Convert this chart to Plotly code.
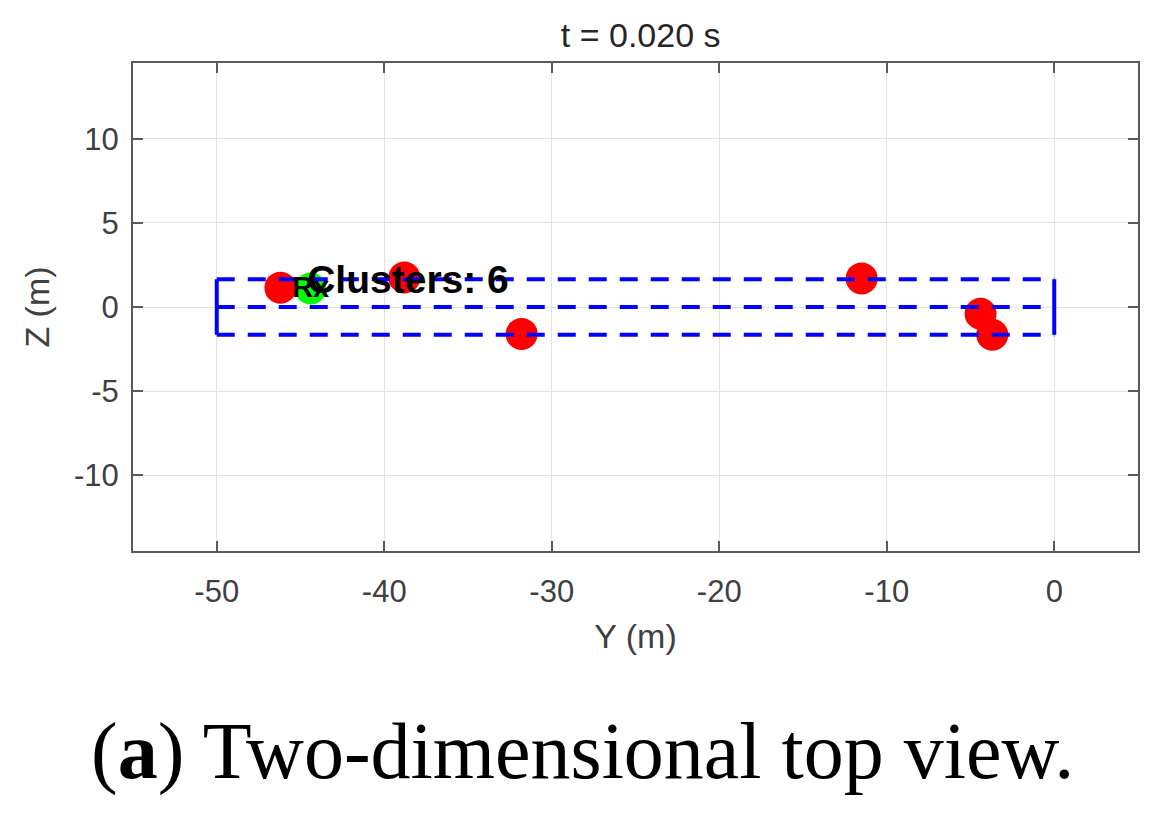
import plotly.graph_objects as go

# Data
cluster_y = [-46.2, -38.8, -31.8, -11.5, -4.4, -3.7]
cluster_z = [1.15, 1.75, -1.6, 1.7, -0.4, -1.65]
rx_y = [-44.4]
rx_z = [1.1]
room_y = [-50, 0]
room_z_lines = [1.65, 0.0, -1.65]
x_ticks = [-50, -40, -30, -20, -10, 0]
y_ticks = [-10, -5, 0, 5, 10]
title_text = "t = 0.020 s"
cluster_label = "Clusters: 6"
rx_label = "Rx"
caption = "(<b>a</b>) Two-dimensional top view."

fig = go.Figure()

# markers
fig.add_trace(go.Scatter(x=cluster_y, y=cluster_z, mode="markers",
                         marker=dict(color="#ff0000", size=32, line=dict(width=0)),
                         showlegend=False, hoverinfo="skip"))
fig.add_trace(go.Scatter(x=rx_y, y=rx_z, mode="markers",
                         marker=dict(color="#00ff00", size=32, line=dict(width=0)),
                         showlegend=False, hoverinfo="skip"))

# dashed horizontal room lines
for zl in room_z_lines:
    fig.add_trace(go.Scatter(x=room_y, y=[zl, zl], mode="lines",
                             line=dict(color="#0000ff", width=4, dash="18px,13px"),
                             showlegend=False, hoverinfo="skip"))
# solid vertical ends
for yv in room_y:
    fig.add_trace(go.Scatter(x=[yv, yv], y=[room_z_lines[0], room_z_lines[-1]], mode="lines",
                             line=dict(color="#0000ff", width=4),
                             showlegend=False, hoverinfo="skip"))

# text labels
fig.add_trace(go.Scatter(x=[-45.5], y=[1.05], mode="text", text=[rx_label],
                         textposition="middle right",
                         textfont=dict(family="Liberation Sans, Arial", size=29, color="#000000", weight="bold"),
                         showlegend=False, hoverinfo="skip"))
fig.add_trace(go.Scatter(x=[-44.6], y=[1.42], mode="text", text=[cluster_label],
                         textposition="middle right",
                         textfont=dict(family="Liberation Sans, Arial", size=39, color="#000000", weight="bold"),
                         showlegend=False, hoverinfo="skip"))

axis_common = dict(showgrid=True, gridcolor="#e3e3e3", gridwidth=1,
                   showline=True, linecolor="#5a5a5a", linewidth=2, mirror="allticks",
                   ticks="inside", ticklen=10, tickcolor="#5a5a5a", tickwidth=2,
                   zeroline=False,
                   tickfont=dict(family="Liberation Sans, Arial", size=31, color="#404040"))

fig.update_xaxes(range=[-55, 5], tickvals=x_ticks, ticktext=[str(v) for v in x_ticks],
                 title=dict(text="Y (m)", font=dict(family="Liberation Sans, Arial", size=34, color="#404040"), standoff=16),
                 ticklabelstandoff=12,
                 **axis_common)
fig.update_yaxes(range=[-14.5, 14.5], tickvals=y_ticks, ticktext=[str(v) for v in y_ticks],
                 title=dict(text="Z (m)", font=dict(family="Liberation Sans, Arial", size=34, color="#404040"), standoff=14),
                 ticklabelstandoff=6,
                 **axis_common)

fig.update_layout(
    width=1163, height=818,
    margin=dict(l=125, r=33, t=55, b=275),
    paper_bgcolor="white", plot_bgcolor="white",
    title=dict(text=title_text, x=0.544, xanchor="center", y=0.967, yanchor="middle",
               font=dict(family="Liberation Sans, Arial", size=34, color="#262626")),
    annotations=[dict(text=caption, xref="paper", yref="paper", x=0.447, y=-0.411,
                      xanchor="center", yanchor="middle", showarrow=False,
                      font=dict(family="Liberation Serif, Times New Roman, serif", size=80, color="#000000"))],
)

fig.write_html("out.html")
